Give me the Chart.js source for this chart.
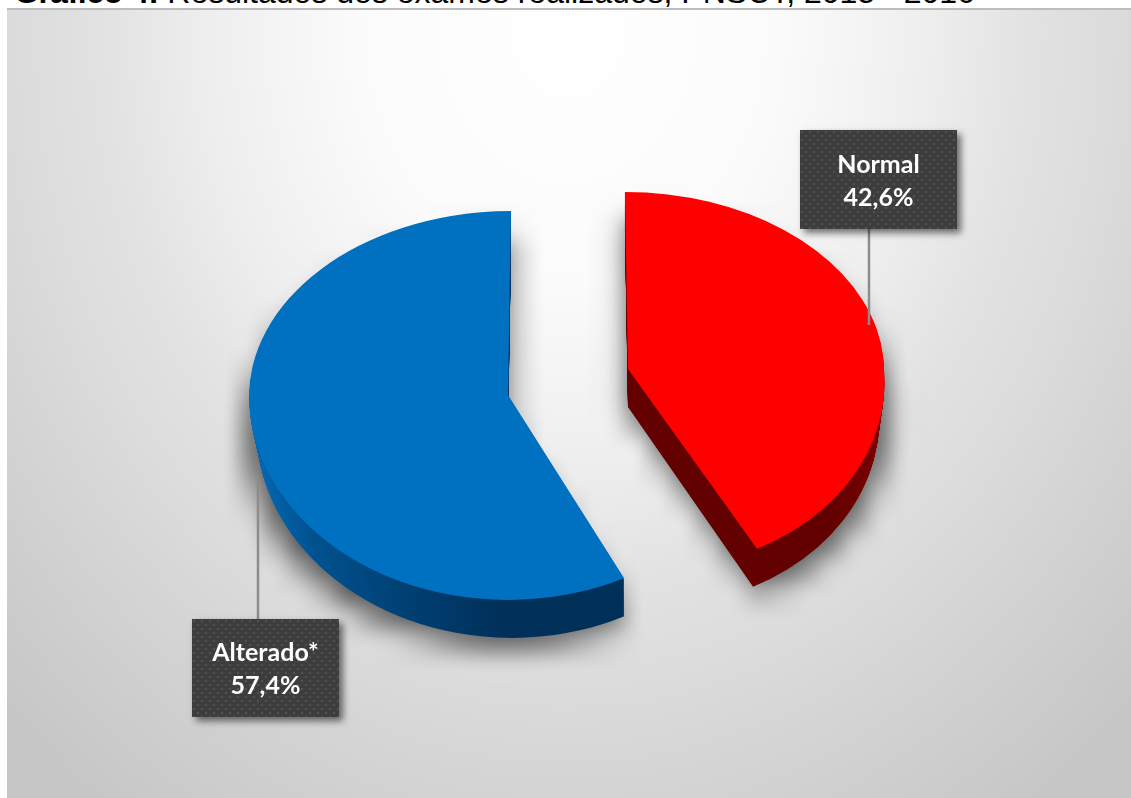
<!DOCTYPE html>
<html>
<head>
<meta charset="utf-8">
<title>Resultados dos exames</title>
<style>
  html, body { margin: 0; padding: 0; background: #fff; }
  #page { position: relative; width: 1131px; height: 798px; overflow: hidden; }
  #heading {
    position: absolute; left: 14px; top: -26px; white-space: nowrap;
    font: 32px "Liberation Sans", Arial, sans-serif; color: #000;
  }
  #heading b { letter-spacing: -0.5px; }
  #panel {
    position: absolute; left: 7px; top: 8px; width: 1124px; height: 790px;
    border-top: 2px solid #bdbdbd; box-sizing: border-box;
    background: radial-gradient(ellipse 800px 960px at 560px 20px, #ffffff 0%, #fbfbfb 26%, #eeeeee 45%, #e2e2e2 58%, #dcdcdc 68%, #d4d4d4 79%, #c6c6c6 100%);
  }
  #chart { position: absolute; left: 0; top: 0; }
</style>
</head>
<body>
<div id="page">
  <div id="heading"><b>Gráfico 4:</b> Resultados dos exames realizados, PNSCT, 2015 - 2016</div>
  <div id="panel"></div>
  <canvas id="chart" width="1131" height="798"></canvas>
</div>
<script src="https://cdn.jsdelivr.net/npm/chart.js@4"></script>
<script>
var categories = ['Normal', 'Alterado*'];
var percentages = [42.6, 57.4];
var faceColors = ['#ff0000', '#0070c0'];

var PIE_RADIUS = 261;
var SIDE_DEPTH = 38;

// --- tilted look: every slice gets its own apex plus an upper and lower squash ---
var sliceShapes = [
  { apexX: 628, apexY: 369, scaleX: 256 / 261, upper: [0.0117, 0.678], lower: [0.0613, 0.771], lean: 1.7, shrink: 0.02 },
  { apexX: 508, apexY: 395, scaleX: 259 / 261, upper: [-0.0115, 0.705], lower: [0, 0.785], lean: -3.5, shrink: 0.03 }
];

// label boxes and their leader lines
var labelBoxes = [
  { x: 800, y: 130, w: 157, h: 99, lineX: 869, lineFrom: 229, lineTo: 325 },
  { x: 192, y: 619, w: 147, h: 98, lineX: 258, lineFrom: 475, lineTo: 619 }
];

function fmtPct(n) {
  return n.toFixed(1).replace('.', ',') + '%';
}

// paints one arc element through the squash transform, upper and lower half apart
function paintSlice(ctx, el, shape, shift, wallPart, fill) {
  var saved = el.options;
  el.options = Object.assign({}, saved, { backgroundColor: fill, borderWidth: 0 });
  var cutY = shape.apexY + shift;
  var sx = shape.scaleX * (1 - shape.shrink * wallPart);

  [shape.upper, shape.lower].forEach(function (m, half) {
    ctx.save();
    ctx.beginPath();
    if (half === 0) ctx.rect(0, 0, 1131, cutY + 0.5);
    else ctx.rect(0, cutY, 1131, 798);
    ctx.clip();
    var skew = m[0];
    if (half === 1) skew -= wallPart * shape.lean / 229;
    ctx.transform(sx, 0, skew, m[1], shape.apexX, cutY);
    ctx.translate(-el.x, -el.y);
    el.draw(ctx);
    ctx.restore();
  });
  el.options = saved;
}

function sideFill(ctx, el, i) {
  if (i === 0) {
    var red = ctx.createLinearGradient(el.x, 0, el.x + PIE_RADIUS, 0);
    red.addColorStop(0, '#640000');
    red.addColorStop(0.75, '#620000');
    red.addColorStop(1, '#7c0000');
    return red;
  }
  var blue = ctx.createLinearGradient(el.x - PIE_RADIUS, 0, el.x + 120, 0);
  blue.addColorStop(0, '#0568b4');
  blue.addColorStop(0.16, '#00528f');
  blue.addColorStop(0.42, '#003f72');
  blue.addColorStop(0.66, '#00305a');
  blue.addColorStop(1, '#002f57');
  return blue;
}

function dotPattern(ctx) {
  var tile = document.createElement('canvas');
  tile.width = 8;
  tile.height = 8;
  var t = tile.getContext('2d');
  t.fillStyle = '#3d3d3d';
  t.fillRect(0, 0, 8, 8);
  t.fillStyle = '#525252';
  t.fillRect(1, 1, 2, 2);
  t.fillRect(5, 5, 2, 2);
  return ctx.createPattern(tile, 'repeat');
}

var tiltedPie = {
  id: 'tiltedPie',
  beforeDatasetDraw: function (chart) {
    var ctx = chart.ctx;
    var arcs = chart.getDatasetMeta(0).data;

    // soft shadow under the slices: painted black, shrunk and stretched back up to blur it
    var off = document.createElement('canvas');
    off.width = 1131;
    off.height = 798;
    var offCtx = off.getContext('2d');
    arcs.forEach(function (el, i) {
      paintSlice(offCtx, el, sliceShapes[i], 30, 0, '#000');
      paintSlice(offCtx, el, sliceShapes[i], 44, 0, '#000');
    });
    var small = document.createElement('canvas');
    small.width = 47;
    small.height = 33;
    var smallCtx = small.getContext('2d');
    smallCtx.imageSmoothingEnabled = true;
    smallCtx.imageSmoothingQuality = 'high';
    smallCtx.drawImage(off, 0, 0, 47, 33);
    ctx.save();
    ctx.imageSmoothingEnabled = true;
    ctx.imageSmoothingQuality = 'high';
    ctx.globalAlpha = 0.6;
    ctx.drawImage(small, 0, 0, 1131, 798);
    ctx.restore();

    // side wall, then top face
    arcs.forEach(function (el, i) {
      var fill = sideFill(ctx, el, i);
      for (var d = SIDE_DEPTH; d > 0; d--) {
        paintSlice(ctx, el, sliceShapes[i], d, d / SIDE_DEPTH, fill);
      }
      paintSlice(ctx, el, sliceShapes[i], 0, 0, faceColors[i]);
    });
    return false;
  },
  afterDatasetsDraw: function (chart) {
    var ctx = chart.ctx;
    var pattern = dotPattern(ctx);

    labelBoxes.forEach(function (box, i) {
      ctx.save();
      ctx.strokeStyle = '#8c8c8c';
      ctx.lineWidth = 2.5;
      ctx.beginPath();
      ctx.moveTo(box.lineX, box.lineFrom);
      ctx.lineTo(box.lineX, box.lineTo);
      ctx.stroke();

      ctx.shadowColor = 'rgba(0,0,0,0.55)';
      ctx.shadowBlur = 7;
      ctx.shadowOffsetX = 4;
      ctx.shadowOffsetY = 4;
      ctx.fillStyle = '#3d3d3d';
      ctx.fillRect(box.x, box.y, box.w, box.h);
      ctx.shadowColor = 'transparent';
      ctx.translate(box.x, box.y);
      ctx.fillStyle = pattern;
      ctx.fillRect(0, 0, box.w, box.h);

      ctx.fillStyle = '#ffffff';
      ctx.font = 'bold 25px Lato, "Open Sans", sans-serif';
      ctx.textAlign = 'center';
      ctx.textBaseline = 'middle';
      ctx.fillText(categories[i], box.w / 2, box.h / 2 - 15);
      ctx.fillText(fmtPct(percentages[i]), box.w / 2, box.h / 2 + 18);
      ctx.restore();
    });
  }
};

new Chart(document.getElementById('chart'), {
  type: 'pie',
  data: {
    labels: categories,
    datasets: [{
      data: percentages,
      backgroundColor: faceColors,
      borderWidth: 0,
      radius: PIE_RADIUS
    }]
  },
  options: {
    responsive: false,
    animation: false,
    events: [],
    plugins: {
      legend: { display: false },
      tooltip: { enabled: false }
    }
  },
  plugins: [tiltedPie]
});
</script>
</body>
</html>
